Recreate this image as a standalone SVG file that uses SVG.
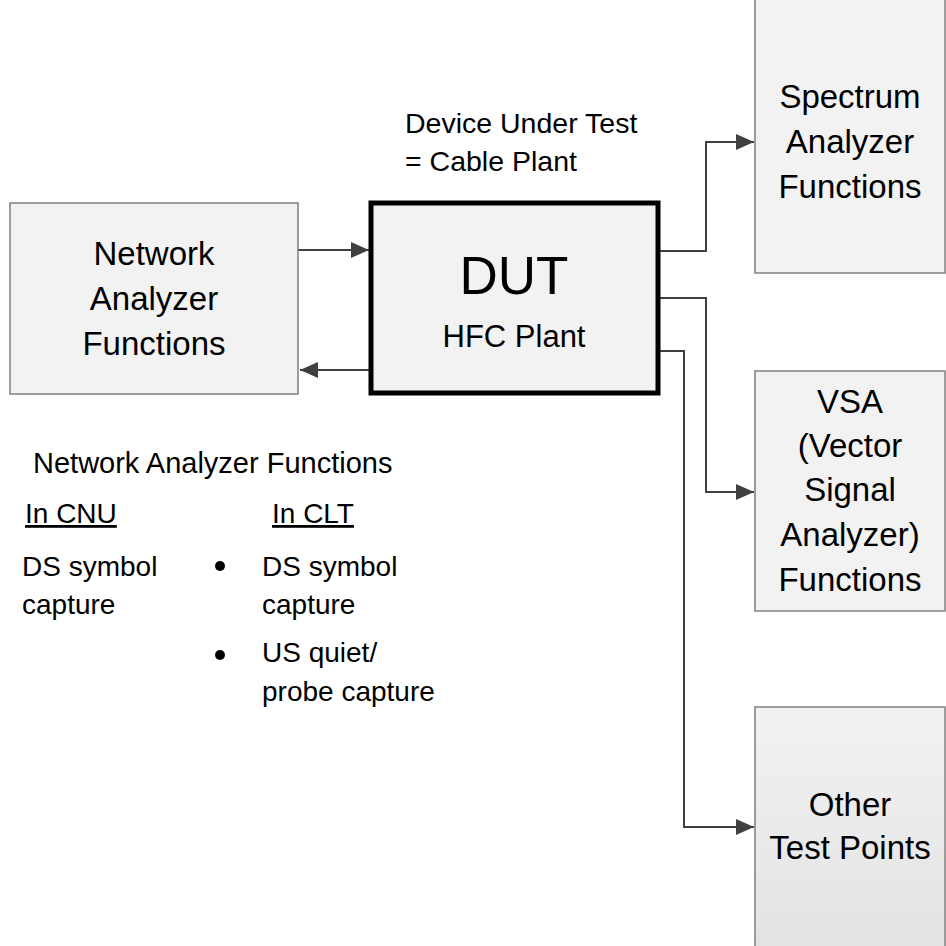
<svg xmlns="http://www.w3.org/2000/svg" width="946" height="946" viewBox="0 0 946 946">
<style>
.box{fill:#f2f2f2;stroke:#7f7f7f;stroke-width:1.5}
.dut{fill:#f2f2f2;stroke:#000;stroke-width:5}
.t{font-family:"Liberation Sans",Arial,sans-serif;fill:#000;text-anchor:middle;font-size:33px}
.l{font-family:"Liberation Sans",Arial,sans-serif;fill:#000;font-size:28px}
.c{fill:none;stroke:#404040;stroke-width:2}
</style>
<defs>
<marker id="ah" markerWidth="18" markerHeight="16" refX="18" refY="8" orient="auto" markerUnits="userSpaceOnUse">
<path d="M0,0 L18,8 L0,16 Z" fill="#404040"/>
</marker>
<linearGradient id="g" x1="0" y1="0" x2="0" y2="1">
<stop offset="0" stop-color="#f2f2f2"/>
<stop offset="1" stop-color="#e2e2e2"/>
</linearGradient>
</defs>
<g id="connectors">
<path class="c" d="M298,250 H369" marker-end="url(#ah)"/>
<path class="c" d="M371,370 H300" marker-end="url(#ah)"/>
<path class="c" d="M658,251 H706 V142 H754" marker-end="url(#ah)"/>
<path class="c" d="M658,298 H706 V492 H754" marker-end="url(#ah)"/>
<path class="c" d="M658,351 H684 V827 H754" marker-end="url(#ah)"/>
</g>
<g id="network-analyzer">
<rect class="box" x="10" y="203" width="288" height="191"/>
<text class="t" x="154" y="265">Network</text>
<text class="t" x="154" y="310">Analyzer</text>
<text class="t" x="154" y="355">Functions</text>
</g>
<g id="dut">
<rect class="dut" x="371" y="203" width="287" height="190"/>
<text class="t" x="514" y="294" style="font-size:53px">DUT</text>
<text class="t" x="514" y="347" style="font-size:31px">HFC Plant</text>
</g>
<g id="dut-label">
<text class="l" x="405" y="133" style="font-size:28.5px">Device Under Test</text>
<text class="l" x="405" y="171" style="font-size:28.5px">= Cable Plant</text>
</g>
<g id="spectrum">
<rect class="box" x="755" y="-10" width="190" height="283"/>
<text class="t" x="850" y="108">Spectrum</text>
<text class="t" x="850" y="153">Analyzer</text>
<text class="t" x="850" y="198">Functions</text>
</g>
<g id="vsa">
<rect class="box" x="755" y="371" width="190" height="240"/>
<text class="t" x="850" y="413">VSA</text>
<text class="t" x="850" y="457">(Vector</text>
<text class="t" x="850" y="501">Signal</text>
<text class="t" x="850" y="546">Analyzer)</text>
<text class="t" x="850" y="591">Functions</text>
</g>
<g id="other">
<rect x="755" y="707" width="190" height="250" fill="url(#g)" stroke="#7f7f7f" stroke-width="1.5"/>
<text class="t" x="850" y="816">Other</text>
<text class="t" x="850" y="859">Test Points</text>
</g>
<g id="legend">
<text class="l" x="33" y="473" style="font-size:29px">Network Analyzer Functions</text>
<text class="l" x="25" y="523" text-decoration="underline">In CNU</text>
<text class="l" x="272" y="523" text-decoration="underline">In CLT</text>
<text class="l" x="22" y="576">DS symbol</text>
<text class="l" x="22" y="614">capture</text>
<circle cx="220" cy="566" r="5" fill="#000"/>
<text class="l" x="262" y="576">DS symbol</text>
<text class="l" x="262" y="614">capture</text>
<circle cx="220" cy="655" r="5" fill="#000"/>
<text class="l" x="262" y="662">US quiet/</text>
<text class="l" x="262" y="701">probe capture</text>
</g>
</svg>
